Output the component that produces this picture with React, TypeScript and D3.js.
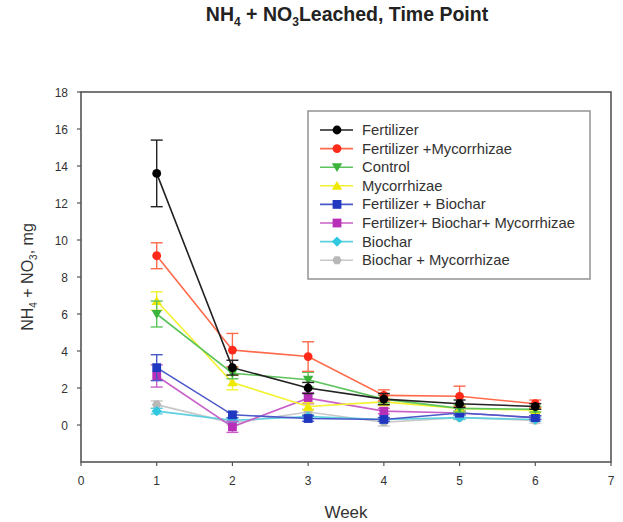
import React from "react";
import * as d3 from "d3";

const weeks = [1, 2, 3, 4, 5, 6];
const seriesNames = [
  "Fertilizer",
  "Fertilizer +Mycorrhizae",
  "Control",
  "Mycorrhizae",
  "Fertilizer + Biochar",
  "Fertilizer+ Biochar+ Mycorrhizae",
  "Biochar",
  "Biochar + Mycorrhizae",
];
const fertilizer = [13.6, 3.1, 2.0, 1.4, 1.15, 1.0];
const fertMyc = [9.15, 4.05, 3.7, 1.6, 1.55, 1.15];
const control = [6.0, 2.8, 2.45, 1.4, 0.9, 0.85];
const mycorrhizae = [6.7, 2.3, 1.0, 1.25, 0.9, 0.8];
const fertBiochar = [3.1, 0.55, 0.35, 0.3, 0.65, 0.4];
const fertBiocharMyc = [2.65, -0.1, 1.45, 0.75, 0.65, 0.4];
const biochar = [0.75, 0.25, 0.45, 0.3, 0.4, 0.3];
const biocharMyc = [1.1, 0.1, 0.7, 0.15, 0.4, 0.25];

const errFertilizer = [1.8, 0.4, 0.3, 0.3, 0.2, 0.15];
const errFertMyc = [0.7, 0.9, 0.8, 0.3, 0.55, 0.2];
const errControl = [0.7, 0.3, 0.4, 0.2, 0.2, 0.15];
const errMycorrhizae = [0.5, 0.4, 0.2, 0.2, 0.15, 0.1];
const errFertBiochar = [0.7, 0.15, 0.15, 0.1, 0.1, 0.1];
const errFertBiocharMyc = [0.6, 0.3, 0.3, 0.15, 0.1, 0.1];
const errBiochar = [0.15, 0.1, 0.1, 0.1, 0.1, 0.1];
const errBiocharMyc = [0.2, 0.1, 0.15, 0.2, 0.1, 0.15];

const xTicks = [0, 1, 2, 3, 4, 5, 6, 7];
const yTicks = [0, 2, 4, 6, 8, 10, 12, 14, 16, 18];

const values = [fertilizer, fertMyc, control, mycorrhizae, fertBiochar, fertBiocharMyc, biochar, biocharMyc];
const errors = [errFertilizer, errFertMyc, errControl, errMycorrhizae, errFertBiochar, errFertBiocharMyc, errBiochar, errBiocharMyc];
const lineColors = ["#222222", "#ff6a4a", "#5cc45c", "#f2f230", "#4a58c8", "#c860c8", "#60d0e0", "#c8c8c8"];
const markColors = ["#000000", "#ff2a1a", "#3cb43c", "#f0e800", "#2038c0", "#b830b8", "#30c8e0", "#b8b8b8"];
const shapes = ["circle", "circle", "triDown", "triUp", "square", "square", "diamond", "hexagon"];

const FONT = "Liberation Sans, Arial, sans-serif";

function marker(shape: string, cx: number, cy: number, color: string, key: string) {
  const r = 4.4;
  if (shape === "circle") return <circle key={key} cx={cx} cy={cy} r={r} fill={color} />;
  if (shape === "square") return <rect key={key} x={cx - r} y={cy - r} width={2 * r} height={2 * r} fill={color} />;
  let pts: [number, number][] = [];
  if (shape === "triDown") pts = [[cx - r - 0.8, cy - r + 0.5], [cx + r + 0.8, cy - r + 0.5], [cx, cy + r + 0.5]];
  if (shape === "triUp") pts = [[cx - r - 0.8, cy + r - 0.5], [cx + r + 0.8, cy + r - 0.5], [cx, cy - r - 0.5]];
  if (shape === "diamond") pts = [[cx, cy - r - 0.8], [cx + r + 0.8, cy], [cx, cy + r + 0.8], [cx - r - 0.8, cy]];
  if (shape === "hexagon") pts = d3.range(6).map((i) => [cx + (r + 0.3) * Math.cos((Math.PI / 3) * i), cy + (r + 0.3) * Math.sin((Math.PI / 3) * i)] as [number, number]);
  return <polygon key={key} points={pts.map((p) => p.join(",")).join(" ")} fill={color} />;
}

export default function App() {
  const W = 623, H = 522;
  const left = 81, right = 611, top = 92, bottom = 462;
  const x = d3.scaleLinear().domain([0, 7]).range([left, right]);
  const y = d3.scaleLinear().domain([-2, 18]).range([bottom, top]);
  const line = d3.line<number>().x((_, i) => x(weeks[i])).y((d) => y(d));
  const order = d3.range(values.length).reverse();
  const cap = 6;

  return (
    <svg width={W} height={H} style={{ position: "absolute", left: 0, top: 0 }} fontFamily={FONT}>
      <rect width={W} height={H} fill="#fff" />
      <text x={347} y={21} textAnchor="middle" fontSize={19.5} fontWeight="bold" fill="#222">
        NH<tspan fontSize={12} dy={5}>4</tspan><tspan dy={-5}> + NO</tspan><tspan fontSize={12} dy={5}>3</tspan><tspan dy={-5}>Leached, Time Point</tspan>
      </text>

      {/* series */}
      {order.map((s) => (
        <g key={s}>
          <path d={line(values[s]) || ""} fill="none" stroke={lineColors[s]} strokeWidth={1.6} />
          {values[s].map((v, i) => {
            const e = errors[s][i];
            const cx = x(weeks[i]);
            return (
              <g key={i} stroke={lineColors[s]} strokeWidth={1.4}>
                <line x1={cx} x2={cx} y1={y(v + e)} y2={y(v - e)} />
                <line x1={cx - cap} x2={cx + cap} y1={y(v + e)} y2={y(v + e)} />
                <line x1={cx - cap} x2={cx + cap} y1={y(v - e)} y2={y(v - e)} />
              </g>
            );
          })}
          {values[s].map((v, i) => marker(shapes[s], x(weeks[i]), y(v), markColors[s], "m" + i))}
        </g>
      ))}

      {/* frame */}
      <rect x={left} y={top} width={right - left} height={bottom - top} fill="none" stroke="#555" strokeWidth={1.6} />

      {/* y axis */}
      {yTicks.map((t) => (
        <g key={t}>
          <line x1={left - 4} x2={left} y1={y(t)} y2={y(t)} stroke="#555" strokeWidth={1.2} />
          <text x={68} y={y(t) + 4.5} textAnchor="end" fontSize={12} fill="#333">{t}</text>
        </g>
      ))}
      {/* x axis */}
      {xTicks.map((t) => (
        <g key={t}>
          <line x1={x(t)} x2={x(t)} y1={bottom} y2={bottom + 4} stroke="#555" strokeWidth={1.2} />
          <text x={x(t)} y={bottom + 23} textAnchor="middle" fontSize={12} fill="#333">{t}</text>
        </g>
      ))}

      <text x={346} y={518} textAnchor="middle" fontSize={17} fill="#333">Week</text>
      <text transform={`translate(33, 277) rotate(-90)`} textAnchor="middle" fontSize={16} fill="#333">
        NH<tspan fontSize={10} dy={4}>4</tspan><tspan dy={-4}> + NO</tspan><tspan fontSize={10} dy={4}>3</tspan><tspan dy={-4}>, mg</tspan>
      </text>

      {/* legend */}
      <rect x={308} y={111} width={282} height={168} fill="#fff" stroke="#999" strokeWidth={1.6} />
      {seriesNames.map((n, i) => {
        const ly = 130 + i * 18.6;
        return (
          <g key={n}>
            <line x1={320} x2={353} y1={ly} y2={ly} stroke={lineColors[i]} strokeWidth={1.6} />
            {marker(shapes[i], 337, ly, markColors[i], "lm")}
            <text x={362} y={ly + 5} fontSize={14.8} fill="#333">{n}</text>
          </g>
        );
      })}
    </svg>
  );
}
